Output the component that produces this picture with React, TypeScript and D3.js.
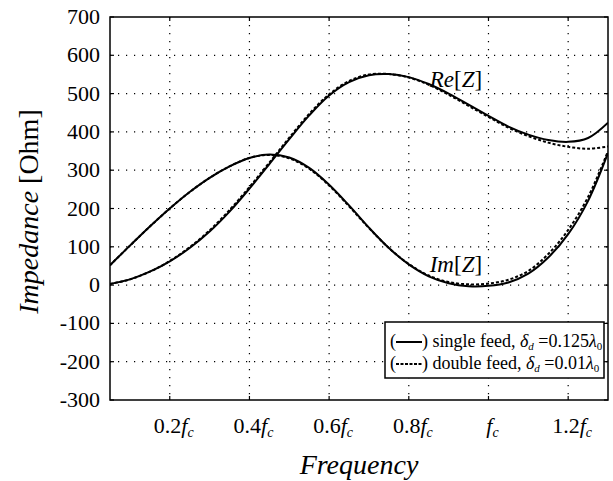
import React, { useEffect, useRef } from "react";
import * as d3 from "d3";

const freq = [0.05, 0.1, 0.15, 0.2, 0.25, 0.3, 0.35, 0.4, 0.45, 0.5, 0.55, 0.6, 0.65, 0.7, 0.75, 0.8, 0.85, 0.9, 0.95, 1.0, 1.05, 1.1, 1.15, 1.2, 1.25, 1.3];
const reSingle = [3, 15, 35, 62, 97, 140, 192, 252, 316, 381, 443, 495, 530, 548, 551, 543, 525, 500, 471, 442, 414, 393, 379, 374, 384, 424];
const reDouble = [3, 15, 35, 63, 99, 143, 196, 256, 320, 385, 447, 498, 533, 550, 551, 542, 523, 497, 468, 439, 411, 389, 372, 361, 356, 362];
const imSingle = [52, 103, 153, 200, 243, 280, 310, 332, 341, 333, 306, 262, 208, 150, 97, 54, 23, 5, -3, -2, 7, 30, 72, 133, 220, 345];
const imDouble = [52, 103, 153, 200, 243, 280, 310, 332, 340, 331, 304, 260, 206, 149, 97, 55, 25, 8, 2, 4, 14, 37, 81, 144, 230, 350];

const xTicks = [0.2, 0.4, 0.6, 0.8, 1.0, 1.2];
const xTickLabels = ["0.2", "0.4", "0.6", "0.8", "", "1.2"];
const yTicks = [-300, -200, -100, 0, 100, 200, 300, 400, 500, 600, 700];

const W = 613, H = 481;
const M = { left: 110, right: 608, top: 17, bottom: 400 };
const FONT = "Liberation Serif, Times New Roman, serif";

export default function App() {
  const ref = useRef<SVGSVGElement>(null);
  useEffect(() => {
    const svg = d3.select(ref.current);
    svg.selectAll("*").remove();
    const x = d3.scaleLinear().domain([0.05, 1.3]).range([M.left, M.right]);
    const y = d3.scaleLinear().domain([-300, 700]).range([M.bottom, M.top]);

    svg.append("defs").append("clipPath").attr("id", "clip")
      .append("rect").attr("x", M.left).attr("y", M.top)
      .attr("width", M.right - M.left).attr("height", M.bottom - M.top);

    const g = svg.append("g").style("font-family", FONT);
    // grid
    g.selectAll(".vg").data(xTicks).enter().append("line")
      .attr("x1", (d) => x(d)).attr("x2", (d) => x(d))
      .attr("y1", M.top).attr("y2", M.bottom)
      .attr("stroke", "#000").attr("stroke-width", 1.2).attr("stroke-dasharray", "1.2,6.8");
    g.selectAll(".hg").data(yTicks.slice(1, -1)).enter().append("line")
      .attr("y1", (d) => y(d)).attr("y2", (d) => y(d))
      .attr("x1", M.left).attr("x2", M.right)
      .attr("stroke", "#000").attr("stroke-width", 1.2).attr("stroke-dasharray", "1.2,6.8");

    // ticks inward on all sides
    xTicks.forEach((t) => {
      g.append("line").attr("x1", x(t)).attr("x2", x(t)).attr("y1", M.bottom).attr("y2", M.bottom - 4).attr("stroke", "#000").attr("stroke-width", 1.2);
      g.append("line").attr("x1", x(t)).attr("x2", x(t)).attr("y1", M.top).attr("y2", M.top + 4).attr("stroke", "#000").attr("stroke-width", 1.2);
    });
    yTicks.forEach((t) => {
      g.append("line").attr("y1", y(t)).attr("y2", y(t)).attr("x1", M.left).attr("x2", M.left + 4).attr("stroke", "#000").attr("stroke-width", 1.2);
      g.append("line").attr("y1", y(t)).attr("y2", y(t)).attr("x1", M.right).attr("x2", M.right - 4).attr("stroke", "#000").attr("stroke-width", 1.2);
    });

    const line = (vals: number[]) =>
      d3.line<number>().x((_, i) => x(freq[i])).y((d) => y(d)).curve(d3.curveCatmullRom.alpha(0.5))(vals);

    const curves = g.append("g").attr("clip-path", "url(#clip)");
    [reDouble, imDouble].forEach((v) => {
      curves.append("path").attr("d", line(v)).attr("fill", "none").attr("stroke", "#000")
        .attr("stroke-width", 2).attr("stroke-dasharray", "3,2");
    });
    [reSingle, imSingle].forEach((v) => {
      curves.append("path").attr("d", line(v)).attr("fill", "none").attr("stroke", "#000")
        .attr("stroke-width", 2);
    });

    // frame
    g.append("rect").attr("x", M.left).attr("y", M.top)
      .attr("width", M.right - M.left).attr("height", M.bottom - M.top)
      .attr("fill", "none").attr("stroke", "#000").attr("stroke-width", 1.5);

    // y tick labels
    g.selectAll(".yl").data(yTicks).enter().append("text")
      .attr("x", M.left - 10).attr("y", (d) => y(d) + 7)
      .attr("text-anchor", "end").attr("font-size", 22)
      .text((d) => String(d));

    // x tick labels
    xTicks.forEach((t, i) => {
      const tx = g.append("text").attr("x", x(t) + 4).attr("y", 433)
        .attr("text-anchor", "middle").attr("font-size", 22);
      if (xTickLabels[i]) tx.append("tspan").text(xTickLabels[i]);
      tx.append("tspan").attr("font-style", "italic").text("f");
      tx.append("tspan").attr("font-style", "italic").attr("font-size", 14).attr("dy", 4).text("c");
    });

    // axis titles
    g.append("text").attr("x", (M.left + M.right) / 2).attr("y", 474)
      .attr("text-anchor", "middle").attr("font-size", 28)
      .attr("font-style", "italic").text("Frequency");
    const yt = g.append("text").attr("transform", `translate(38,${(M.top + M.bottom) / 2 + 3}) rotate(-90)`)
      .attr("text-anchor", "middle").attr("font-size", 28);
    yt.append("tspan").attr("font-style", "italic").text("Impedance");
    yt.append("tspan").text(" [Ohm]");

    // curve labels
    const lab = (px: number, py: number, a: string) => {
      const t = g.append("text").attr("x", px).attr("y", py).attr("font-size", 23);
      t.append("tspan").attr("font-style", "italic").text(a);
      t.append("tspan").text("[");
      t.append("tspan").attr("font-style", "italic").text("Z");
      t.append("tspan").text("]");
    };
    lab(x(0.8525), y(516), "Re");
    lab(x(0.8525), y(34), "Im");

    // legend
    const lx = 385, ly = 322, lw = 219, lh = 56;
    g.append("rect").attr("x", lx).attr("y", ly).attr("width", lw).attr("height", lh)
      .attr("fill", "#fff").attr("stroke", "#000").attr("stroke-width", 1.5);
    const rows = [
      { dash: null, name: ") single feed, ", val: "=0.125" },
      { dash: "3,1.5", name: ") double feed, ", val: "=0.01" },
    ];
    rows.forEach((r, i) => {
      const by = 347 + i * 22;
      g.append("text").attr("x", lx + 5).attr("y", by).attr("font-size", 18).text("(");
      const ln = g.append("line").attr("x1", lx + 11).attr("x2", lx + 37).attr("y1", by - 5).attr("y2", by - 5)
        .attr("stroke", "#000").attr("stroke-width", 2);
      if (r.dash) ln.attr("stroke-dasharray", r.dash);
      const t = g.append("text").attr("x", lx + 37).attr("y", by).attr("font-size", 18);
      t.append("tspan").text(r.name);
      t.append("tspan").attr("font-style", "italic").text("δ");
      t.append("tspan").attr("font-style", "italic").attr("font-size", 11).attr("dy", 3).text("d");
      t.append("tspan").attr("dy", -3).text(" " + r.val);
      t.append("tspan").attr("font-style", "italic").text("λ");
      t.append("tspan").attr("font-size", 11).attr("dy", 3).text("0");
    });
  }, []);
  return (
    <svg ref={ref} width={W} height={H} style={{ position: "absolute", left: 0, top: 0, background: "#fff" }} />
  );
}
